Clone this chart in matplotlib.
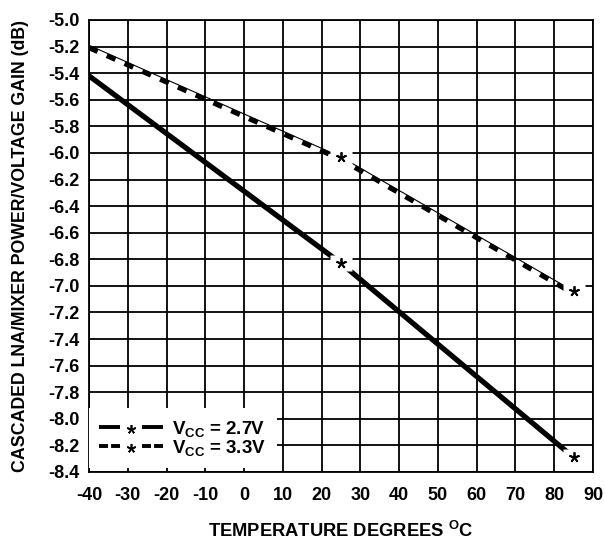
import matplotlib
matplotlib.use('Agg')
import matplotlib.pyplot as plt
import matplotlib.transforms as mtransforms
from matplotlib.lines import Line2D
from matplotlib.legend_handler import HandlerBase

plt.rcParams['font.family'] = ['Liberation Sans', 'DejaVu Sans']
plt.rcParams['font.weight'] = 'bold'
plt.rcParams['axes.labelweight'] = 'bold'
plt.rcParams['mathtext.fontset'] = 'custom'
plt.rcParams['mathtext.rm'] = 'Liberation Sans:bold'
plt.rcParams['mathtext.it'] = 'Liberation Sans:bold'
plt.rcParams['mathtext.bf'] = 'Liberation Sans:bold'
plt.rcParams['mathtext.default'] = 'rm'
plt.rcParams['lines.scale_dashes'] = False
plt.rcParams['axes.unicode_minus'] = False

# ---- data ----
temperature = [-40, 25, 85]
gain_vcc_27 = [-5.42, -6.83, -8.29]
gain_vcc_33 = [-5.19, -6.03, -7.04]
x_ticks = [-40, -30, -20, -10, 0, 10, 20, 30, 40, 50, 60, 70, 80, 90]
y_ticks = [-5.0, -5.2, -5.4, -5.6, -5.8, -6.0, -6.2, -6.4, -6.6, -6.8,
           -7.0, -7.2, -7.4, -7.6, -7.8, -8.0, -8.2, -8.4]
y_tick_labels = ['-5.0', '-5.2', '-5.4', '-5.6', '-5.8', '-6.0', '-6.2', '-6.4',
                 '-6.6', '-6.8', '-7.0', '-7.2', '-7.4', '-7.6', '-7.8', '-8.0',
                 '-8.2', '-8.4']
x_tick_labels = ['-40', '-30', '-20', '-10', '0', '10', '20', '30', '40', '50',
                 '60', '70', '80', '90']
labels = [r'$\mathrm{V_{CC}}$ = 2.7V', r'$\mathrm{V_{CC}}$ = 3.3V']

ASTERISK = (5, 2, 0)

fig = plt.figure(figsize=(6.05, 5.41), dpi=100)
ax = fig.add_axes([89 / 605, 69 / 541, 504 / 605, 452 / 541])

# 2.7 V : thick solid
ax.plot(temperature, gain_vcc_27, color='k', lw=3.8, solid_capstyle='butt', zorder=2)
# 3.3 V : thin solid + thick dashes slightly below
ax.plot(temperature, gain_vcc_33, color='k', lw=0.8, zorder=2)
off = mtransforms.offset_copy(ax.transData, fig=fig, x=0, y=-1.8, units='points')
ax.plot(temperature, gain_vcc_33, color='k', lw=3.6, dashes=(6.8, 7.2),
        dash_capstyle='butt', transform=off, zorder=2)

box = [(-11, -7.5), (11, -7.5), (11, 7.5), (-11, 7.5), (-11, -7.5)]
for g in (gain_vcc_27, gain_vcc_33):
    ax.plot(temperature[1:], g[1:], ls='none', marker=box, ms=16,
            mfc='white', mec='none', zorder=3)
    ax.plot(temperature[1:], g[1:], ls='none', marker=ASTERISK, ms=7.5,
            mew=1.3, color='k', zorder=4)

ax.set_xlim(-40, 90)
ax.set_ylim(-8.4, -5.0)
ax.set_xticks(x_ticks)
ax.set_xticklabels(x_tick_labels)
ax.set_yticks(y_ticks)
ax.set_yticklabels(y_tick_labels)
ax.tick_params(axis='both', length=0, labelsize=13)
ax.tick_params(axis='x', pad=11)
ax.tick_params(axis='y', pad=6.5)
ax.grid(True, color='k', lw=1.3)
ax.set_axisbelow(True)
for s in ax.spines.values():
    s.set_linewidth(1.3)

ax.set_xlabel(r'TEMPERATURE DEGREES $^{\mathrm{O}}$C', fontsize=13.2,
              fontweight='bold', va='center')
ax.xaxis.set_label_coords(0.5, -0.1305)
ax.set_ylabel('CASCADED LNA/MIXER POWER/VOLTAGE GAIN (dB)', fontsize=12.8,
              fontweight='bold', va='center')
ax.yaxis.set_label_coords(-0.1369, 0.5)


class GapHandler(HandlerBase):
    def create_artists(self, legend, orig_handle, xdescent, ydescent,
                       width, height, fontsize, trans):
        y = (height - ydescent) / 2
        x0 = -xdescent
        seg = 0.33 * width
        l1 = Line2D([x0, x0 + seg], [y, y])
        l1.update_from(orig_handle)
        l2 = Line2D([x0 + width - seg, x0 + width], [y, y])
        l2.update_from(orig_handle)
        star = Line2D([x0 + width / 2], [y - 1.5], ls='none', marker=ASTERISK,
                      ms=6.5, mew=1.2, color='k')
        for a in (l1, l2, star):
            a.set_transform(trans)
        return [l1, l2, star]


proxy_27 = Line2D([], [], color='k', lw=2.8, solid_capstyle='butt')
proxy_33 = Line2D([], [], color='k', lw=2.8, dashes=(6.5, 2.2), dash_capstyle='butt')
leg = ax.legend([proxy_27, proxy_33], labels,
                handler_map={proxy_27: GapHandler(), proxy_33: GapHandler()},
                loc='lower left', bbox_to_anchor=(0, 4 / 452), borderaxespad=0,
                frameon=True, fancybox=False, edgecolor='none', facecolor='white',
                framealpha=1, fontsize=13.5, handlelength=3.4, handletextpad=0.5,
                labelspacing=-0.05, borderpad=0.55)
leg.set_zorder(5)

fig.savefig('out.png', dpi=100)
